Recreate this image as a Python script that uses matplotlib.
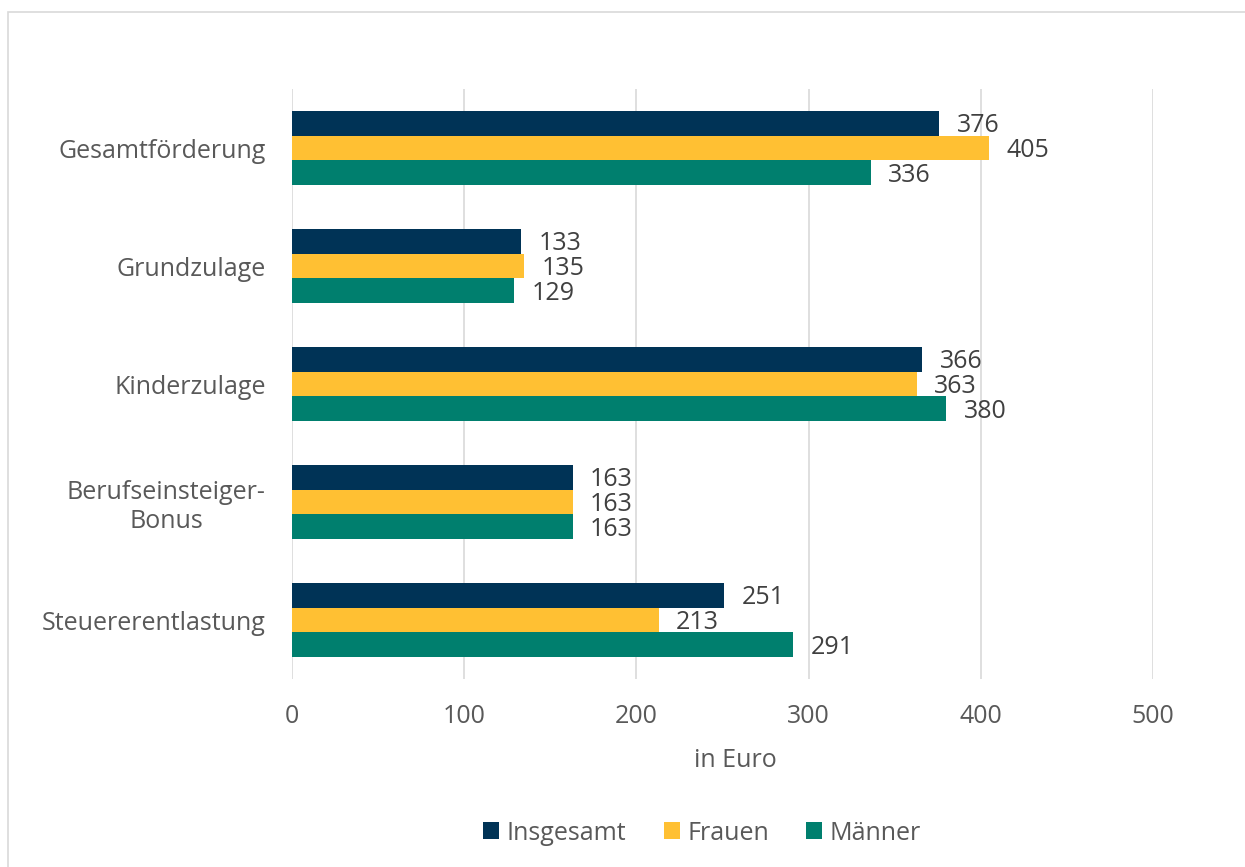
import matplotlib.pyplot as plt
import numpy as np
from matplotlib.patches import Rectangle

plt.rcParams['font.family'] = ['Open Sans', 'DejaVu Sans']

categories = ['Gesamtförderung', 'Grundzulage', 'Kinderzulage',
              'Berufseinsteiger-\nBonus', 'Steuererentlastung']
insgesamt = [376, 133, 366, 163, 251]
frauen = [405, 135, 363, 163, 213]
maenner = [336, 129, 380, 163, 291]
series_names = ['Insgesamt', 'Frauen', 'Männer']
colors = ['#003356', '#FFC033', '#007F6E']

fs = 18

fig = plt.figure(figsize=(12.45, 8.67), dpi=100)
# light frame around the chart area
fig.patches.append(Rectangle((8 / 1245, -0.01), 1.02, 1 - 12 / 867 + 0.01,
                             transform=fig.transFigure, fill=False,
                             edgecolor='#D9D9D9', linewidth=1.2))

ax = fig.add_axes([292 / 1245, 1 - 679 / 867, (1153 - 292) / 1245, (679 - 89) / 867])

y = np.arange(len(categories))
h = 0.209
data = [insgesamt, frauen, maenner]
for i, vals in enumerate(data):
    pos = y + (i - 1) * h
    bars = ax.barh(pos, vals, height=h, color=colors[i], label=series_names[i], zorder=3)
    for b, v in zip(bars, vals):
        ax.text(v + 10, b.get_y() + b.get_height() / 2 + 0.02, str(v),
                va='center', ha='left', fontsize=fs, color='#404040')

ax.set_ylim(len(categories) - 0.5, -0.5)
ax.set_xlim(0, 500)
ax.set_xticks([0, 100, 200, 300, 400, 500])
ax.set_yticks(y)
ax.set_yticklabels(categories, fontsize=fs, color='#595959', ha='right',
                   multialignment='center')
ax.tick_params(axis='y', length=0, pad=19)
ax.tick_params(axis='x', length=0, pad=18, labelsize=fs, labelcolor='#595959')
ax.grid(axis='x', color='#D9D9D9', linewidth=1.2, zorder=0)
for s in ax.spines.values():
    s.set_visible(False)

ax.set_xlabel('in Euro', fontsize=fs, color='#595959')
ax.xaxis.set_label_coords((735 - 292) / 861, -(748 - 679) / 590)

leg = fig.legend(loc='center', bbox_to_anchor=(702 / 1245, 1 - 833 / 867), ncol=3,
                 frameon=False, fontsize=fs, handlelength=0.64, handleheight=0.64,
                 handletextpad=0.3, columnspacing=1.5)
for t in leg.get_texts():
    t.set_color('#595959')

fig.savefig('out.png', dpi=100)
